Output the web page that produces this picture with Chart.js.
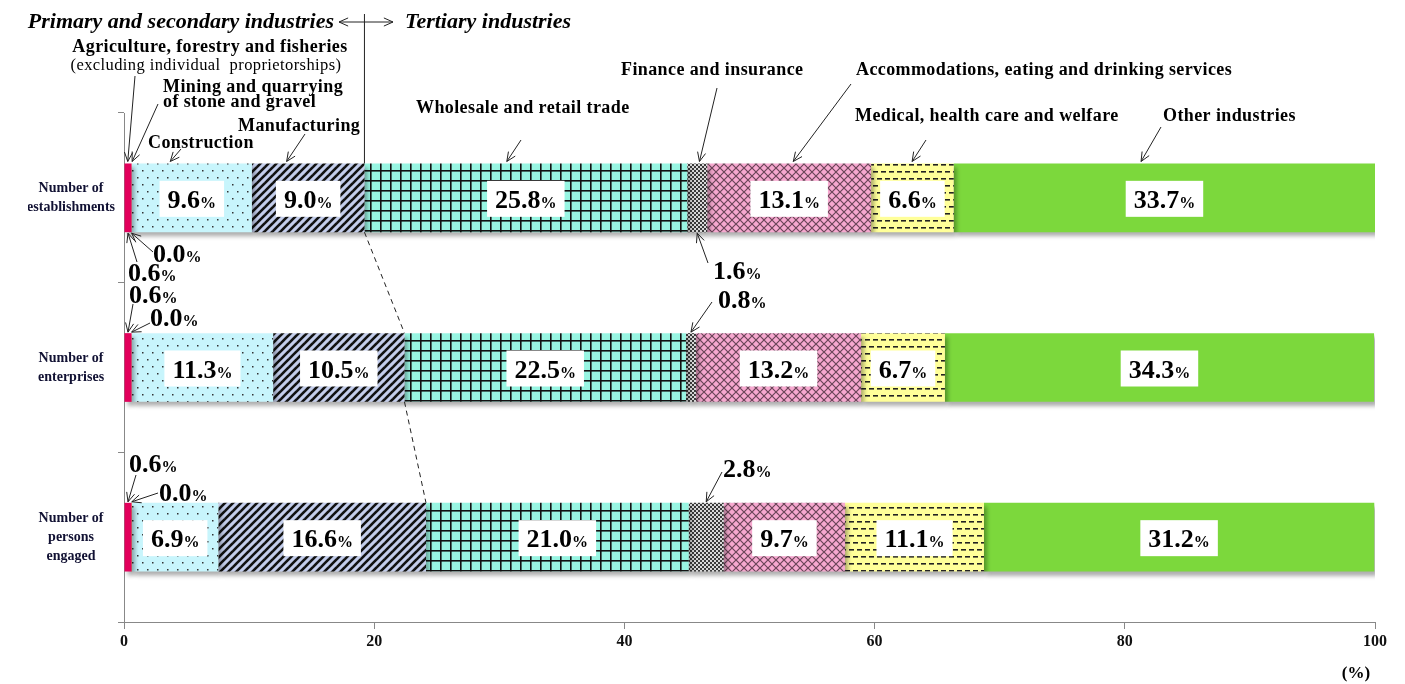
<!DOCTYPE html>
<html>
<head>
<meta charset="utf-8">
<script src="https://cdn.jsdelivr.net/npm/chart.js@4.4.1/dist/chart.umd.min.js"></script>
<style>
  html, body { margin: 0; padding: 0; background: #fff; }
  #wrap { width: 1405px; height: 684px; }
</style>
</head>
<body>
<div id="wrap"><canvas id="c"></canvas></div>
<script>
// categories (rows) and tick labels
const categories = [['Number of', 'establishments'], ['Number of', 'enterprises'], ['Number of', 'persons', 'engaged']];
const xTicks = [0, 20, 40, 60, 80, 100];

// shares in % (establishments, enterprises, persons engaged)
const agriculture    = [0.6, 0.6, 0.6];
const mining         = [0.02, 0.02, 0.04];
const construction   = [9.6, 11.3, 6.9];
const manufacturing  = [9.0, 10.5, 16.6];
const wholesale      = [25.8, 22.5, 21.0];
const finance        = [1.6, 0.8, 2.8];
const accommodations = [13.1, 13.2, 9.7];
const medical        = [6.6, 6.7, 11.1];
const other          = [33.7, 34.3, 31.2];

const seriesNames = ['Agriculture, forestry and fisheries', 'Mining and quarrying of stone and gravel', 'Construction',
  'Manufacturing', 'Wholesale and retail trade', 'Finance and insurance',
  'Accommodations, eating and drinking services', 'Medical, health care and welfare', 'Other industries'];

const SERIF = '"Liberation Serif", "Times New Roman", serif';
const ctx = document.getElementById('c').getContext('2d');

// pattern fills
function pat(w, h, bg, paint) {
  const c = document.createElement('canvas');
  c.width = w; c.height = h;
  const g = c.getContext('2d');
  g.fillStyle = bg;
  g.fillRect(0, 0, w, h);
  paint(g);
  return ctx.createPattern(c, 'repeat');
}

const dots = pat(10, 14, '#c8f5fc', g => {
  g.fillStyle = '#333';
  g.fillRect(2, 2, 1.5, 1.5);
  g.fillRect(7, 9, 1.5, 1.5);
});
const stripes = pat(8, 8, '#c3cdeb', g => {
  g.strokeStyle = '#111';
  g.lineWidth = 2.6;
  [-8, 0, 8].forEach(o => {
    g.beginPath(); g.moveTo(o - 1, 9); g.lineTo(o + 9, -1); g.stroke();
  });
});
const grid = pat(10, 10, '#98f5e2', g => {
  g.fillStyle = '#111';
  g.fillRect(0, 0, 10, 1.6);
  g.fillRect(0, 0, 1.6, 10);
});
const checker = pat(4, 4, '#d8d8d8', g => {
  g.fillStyle = '#3a3a3a';
  g.fillRect(0, 0, 2, 2);
  g.fillRect(2, 2, 2, 2);
});
const hatch = pat(8, 8, '#f6a8cf', g => {
  g.strokeStyle = '#6a4558';
  g.lineWidth = 1.2;
  g.beginPath();
  g.moveTo(0, 0); g.lineTo(8, 8);
  g.moveTo(8, 0); g.lineTo(0, 8);
  g.stroke();
});
const dashes = pat(8, 14, '#ffff99', g => {
  g.fillStyle = '#222';
  g.fillRect(1, 3, 5, 1.6);
  g.fillRect(5, 10, 3, 1.6);
  g.fillRect(0, 10, 2, 1.6);
});

const seriesValues = [agriculture, mining, construction, manufacturing, wholesale, finance, accommodations, medical, other];
const seriesFills = ['#e2005b', '#f5a300', dots, stripes, grid, checker, hatch, dashes, '#7cd83c'];

const datasets = seriesValues.map((vals, i) => ({
  label: seriesNames[i],
  data: vals,
  backgroundColor: seriesFills[i],
  borderWidth: 0,
  barPercentage: 0.405,
  categoryPercentage: 1
}));

function pctText(g, value, x, y, align) {
  // big number + small percent sign, y is the baseline
  const num = value.toFixed(1);
  g.font = 'bold 26px ' + SERIF;
  const wn = g.measureText(num).width;
  g.font = 'bold 16px ' + SERIF;
  const wp = g.measureText('%').width;
  let left = align === 'center' ? x - (wn + wp) / 2 : x;
  g.fillStyle = '#000';
  g.textAlign = 'left';
  g.textBaseline = 'alphabetic';
  g.font = 'bold 26px ' + SERIF;
  g.fillText(num, left, y);
  g.font = 'bold 16px ' + SERIF;
  g.fillText('%', left + wn, y);
  return wn + wp;
}

function arrow(g, x1, y1, x2, y2) {
  const a = Math.atan2(y2 - y1, x2 - x1);
  const L = 10, s = 0.42;
  g.strokeStyle = '#222';
  g.lineWidth = 1;
  g.beginPath();
  g.moveTo(x1, y1); g.lineTo(x2, y2);
  g.moveTo(x2 - L * Math.cos(a - s), y2 - L * Math.sin(a - s));
  g.lineTo(x2, y2);
  g.lineTo(x2 - L * Math.cos(a + s), y2 - L * Math.sin(a + s));
  g.stroke();
}

// industry name notes above the first bar: text lines, arrow start, arrow target value (%)
const NOTE = 'bold 18px';
const topNotes = [
  { lines: [['Agriculture, forestry and fisheries', NOTE, 210, 47, 'center'],
            ['(excluding individual  proprietorships)', '16.5px', 206, 66, 'center']], from: [135, 76], v: 0.3 },
  { lines: [['Mining and quarrying', NOTE, 163, 87, 'left'],
            ['of stone and gravel', NOTE, 163, 102, 'left']], from: [158, 104], v: 0.65 },
  { lines: [['Construction', NOTE, 148, 143, 'left']], from: [181, 149], v: 3.7 },
  { lines: [['Manufacturing', NOTE, 238, 126, 'left']], from: [305, 134], v: 13.0 },
  { lines: [['Wholesale and retail trade', NOTE, 416, 108, 'left']], from: [521, 140], v: 30.6 },
  { lines: [['Finance and insurance', NOTE, 621, 70, 'left']], from: [717, 88], v: 46.0 },
  { lines: [['Accommodations, eating and drinking services', NOTE, 856, 70, 'left']], from: [851, 84], v: 53.5 },
  { lines: [['Medical, health care and welfare', NOTE, 855, 116, 'left']], from: [926, 140], v: 63.0 },
  { lines: [['Other industries', NOTE, 1163, 116, 'left']], from: [1161, 127], v: 81.3 }
];

// small shares written outside the bars: dataset, row, text position, arrow start, bar edge
const smallNotes = [
  { ds: 0, row: 0, tx: 128, ty: 281, from: [137, 262], edge: 'bottom' },
  { ds: 1, row: 0, tx: 153, ty: 262, from: [153, 252], edge: 'bottom' },
  { ds: 5, row: 0, tx: 713, ty: 279, from: [708, 263], edge: 'bottom' },
  { ds: 0, row: 1, tx: 129, ty: 303, from: [133, 304], edge: 'top' },
  { ds: 1, row: 1, tx: 150, ty: 326, from: [150, 323], edge: 'top' },
  { ds: 5, row: 1, tx: 718, ty: 308, from: [712, 302], edge: 'top' },
  { ds: 0, row: 2, tx: 129, ty: 472, from: [136, 475], edge: 'top' },
  { ds: 1, row: 2, tx: 159, ty: 501, from: [158, 493], edge: 'top' },
  { ds: 5, row: 2, tx: 723, ty: 477, from: [722, 472], edge: 'top' }
];

const barDecor = {
  id: 'barDecor',
  beforeDatasetsDraw(chart) {
    const g = chart.ctx;
    g.save();
    g.shadowColor = 'rgba(0,0,0,0.32)';
    g.shadowBlur = 4;
    g.shadowOffsetX = 3;
    g.shadowOffsetY = 4;
  },
  afterDatasetsDraw(chart) {
    const g = chart.ctx;
    g.restore();
    g.save();
    chart.data.datasets.forEach((ds, i) => {
      const meta = chart.getDatasetMeta(i);
      meta.data.forEach((el, j) => {
        const v = ds.data[j];
        if (v < 5) return;
        const cx = (el.x + el.base) / 2;
        g.font = 'bold 26px ' + SERIF;
        const wn = g.measureText(v.toFixed(1)).width;
        g.font = 'bold 16px ' + SERIF;
        const wp = g.measureText('%').width;
        const bw = wn + wp + 16, bh = 36;
        g.fillStyle = '#fff';
        g.fillRect(cx - bw / 2, el.y - bh / 2 + 1, bw, bh);
        pctText(g, v, cx, el.y + 10, 'center');
      });
    });
    g.restore();
  },
  afterDraw(chart) {
    const g = chart.ctx;
    const x = chart.scales.x;
    const bar = (ds, row) => chart.getDatasetMeta(ds).data[row];
    const top = el => el.y - el.height / 2;
    const bottom = el => el.y + el.height / 2;
    g.save();

    // header
    g.fillStyle = '#000';
    g.textBaseline = 'middle';
    g.font = 'italic bold 22px ' + SERIF;
    g.textAlign = 'right';
    g.fillText('Primary and secondary industries', 334, 22);
    g.textAlign = 'left';
    g.fillText('Tertiary industries', 405, 22);
    arrow(g, 366, 22, 339, 22);
    arrow(g, 366, 22, 393, 22);

    // boundary between secondary and tertiary industries
    const b = [0, 1, 2].map(r => bar(3, r));
    g.strokeStyle = '#222';
    g.lineWidth = 1;
    g.beginPath();
    g.moveTo(b[0].x, 14); g.lineTo(b[0].x, top(b[0]));
    g.stroke();
    g.setLineDash([5, 4]);
    g.beginPath();
    g.moveTo(b[0].x, bottom(b[0])); g.lineTo(b[1].x, top(b[1]));
    g.moveTo(b[1].x, bottom(b[1])); g.lineTo(b[2].x, top(b[2]));
    g.stroke();
    g.setLineDash([]);

    // industry names
    const bar0Top = top(bar(0, 0));
    g.letterSpacing = '0.4px';
    topNotes.forEach(n => {
      n.lines.forEach(([t, f, tx, ty, al]) => {
        g.font = f + ' ' + SERIF;
        g.textAlign = al;
        g.textBaseline = 'middle';
        g.fillStyle = '#000';
        g.fillText(t, tx, ty);
      });
      arrow(g, n.from[0], n.from[1], x.getPixelForValue(n.v), bar0Top - 2);
    });
    g.letterSpacing = '0px';

    // small shares
    smallNotes.forEach(n => {
      const el = bar(n.ds, n.row);
      const ex = (el.x + el.base) / 2;
      const ey = n.edge === 'top' ? top(el) - 1 : bottom(el) + 1;
      arrow(g, n.from[0], n.from[1], ex, ey);
      pctText(g, chart.data.datasets[n.ds].data[n.row], n.tx, n.ty, 'left');
    });

    // unit
    g.font = 'bold 17px ' + SERIF;
    g.textAlign = 'center';
    g.textBaseline = 'middle';
    g.fillStyle = '#000';
    g.fillText('(%)', 1356, 674);
    g.restore();
  }
};

new Chart(ctx, {
  type: 'bar',
  data: { labels: categories, datasets: datasets },
  options: {
    indexAxis: 'y',
    responsive: true,
    maintainAspectRatio: false,
    animation: false,
    layout: { padding: { left: 28, right: 30, top: 113, bottom: 0 } },
    plugins: { legend: { display: false }, tooltip: { enabled: false } },
    scales: {
      x: {
        type: 'linear',
        stacked: true,
        min: 0,
        max: 100,
        afterBuildTicks: axis => { axis.ticks = xTicks.map(v => ({ value: v })); },
        afterFit: s => { s.height = 62; },
        grid: { drawOnChartArea: false, tickLength: 7, color: '#888' },
        border: { color: '#888' },
        ticks: { padding: 3, color: '#111', font: { family: SERIF, size: 16, weight: 'bold' } }
      },
      y: {
        stacked: true,
        afterFit: s => { s.width = 96; },
        grid: { drawOnChartArea: false, tickLength: 6, color: '#888', offset: true },
        border: { color: '#888' },
        ticks: { crossAlign: 'center', color: '#111133', font: { family: SERIF, size: 14, weight: 'bold', lineHeight: 1.35 } }
      }
    }
  },
  plugins: [barDecor]
});
</script>
</body>
</html>
